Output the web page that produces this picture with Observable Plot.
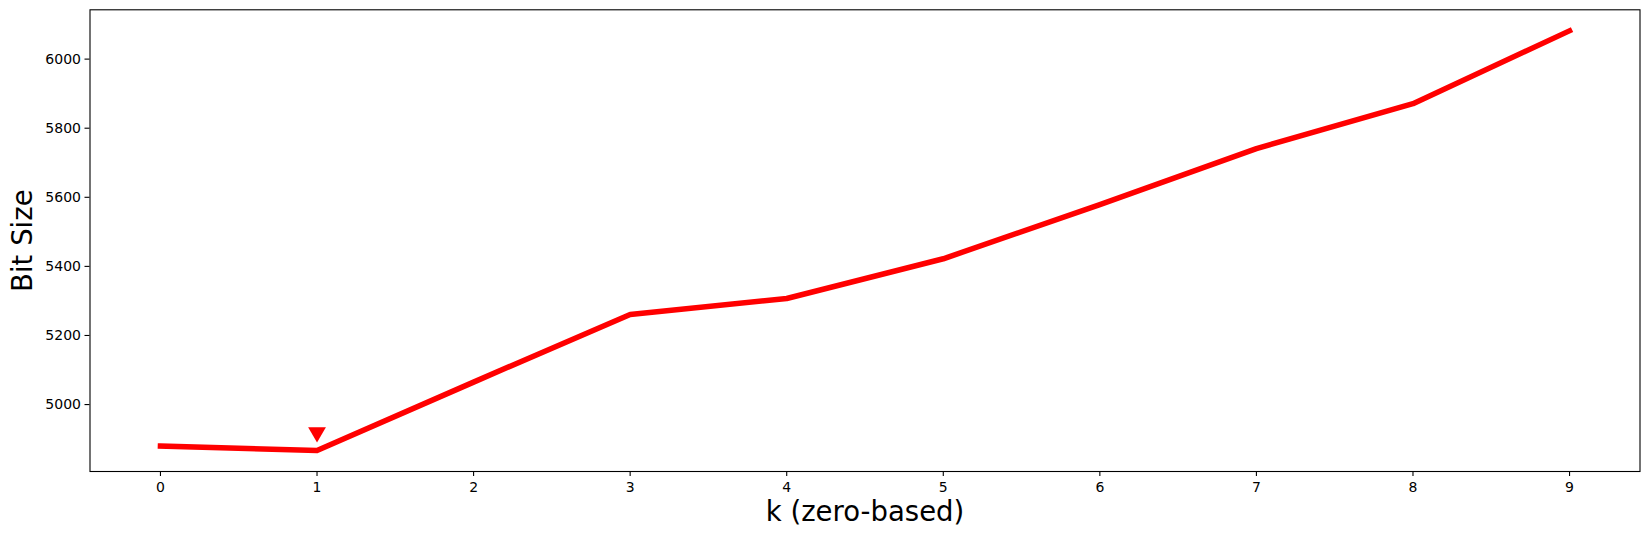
<!DOCTYPE html>
<html>
<head>
<meta charset="utf-8">
<script src="https://cdn.jsdelivr.net/npm/d3@7"></script>
<script src="https://cdn.jsdelivr.net/npm/@observablehq/plot@0.6"></script>
<style>
  html, body { margin: 0; padding: 0; background: #ffffff; }
  #chart { width: 1649px; height: 538px; }
</style>
</head>
<body>
<div id="chart"></div>
<script>
const ks = [0, 1, 2, 3, 4, 5, 6, 7, 8, 9];
const bitSizes = [4880, 4867, 5065, 5261, 5307, 5422, 5579, 5741, 5871, 6082];
const xTicks = [0, 1, 2, 3, 4, 5, 6, 7, 8, 9];
const yTicks = [5000, 5200, 5400, 5600, 5800, 6000];
const markerK = [1];
const markerBits = [4914];
const xLabel = "k (zero-based)";
const yLabel = "Bit Size";

const data = ks.map((k, i) => ({k, bits: bitSizes[i]}));
const marker = markerK.map((k, i) => ({k, bits: markerBits[i]}));

// matplotlib-like 5% autoscale margins
const xMin = d3.min(ks), xMax = d3.max(ks), xr = xMax - xMin;
const yMin = d3.min(bitSizes), yMax = d3.max(bitSizes), yr = yMax - yMin;

const font = "DejaVu Sans, sans-serif";

const chart = Plot.plot({
  width: 1649,
  height: 538,
  marginLeft: 89.5,
  marginRight: 9.5,
  marginTop: 9.3,
  marginBottom: 67,
  style: {fontFamily: font, fontSize: "14px", color: "#000", background: "#fff"},
  x: {domain: [xMin - 0.05 * xr, xMax + 0.05 * xr]},
  y: {domain: [yMin - 0.05 * yr, yMax + 0.05 * yr]},
  marks: [
    Plot.axisX({ticks: xTicks, tickSize: 5, tickPadding: 5.5, label: null, tickFormat: d => String(d), strokeWidth: 1.1}),
    Plot.axisY({ticks: yTicks, tickSize: 5, tickPadding: 4, label: null, tickFormat: d => String(d), strokeWidth: 1.1}),
    Plot.line(data, {x: "k", y: "bits", stroke: "#ff0000", strokeWidth: 5.5, strokeLinecap: "square", strokeLinejoin: "round"}),
    Plot.dot(marker, {x: "k", y: "bits", symbol: "triangle2", rotate: 180, r: 8.5, fill: "#ff0000", stroke: "none", dy: -2}),
    Plot.frame({stroke: "#000", strokeWidth: 1.1}),
    Plot.text([xLabel], {text: d => d, frameAnchor: "bottom", dy: 41, fontSize: 27.5, fill: "#000", textAnchor: "middle", lineAnchor: "middle"}),
    Plot.text([yLabel], {text: d => d, frameAnchor: "left", dx: -67.2, rotate: -90, fontSize: 27.5, fill: "#000", textAnchor: "middle", lineAnchor: "middle"})
  ]
});
document.getElementById("chart").appendChild(chart);
</script>
</body>
</html>
